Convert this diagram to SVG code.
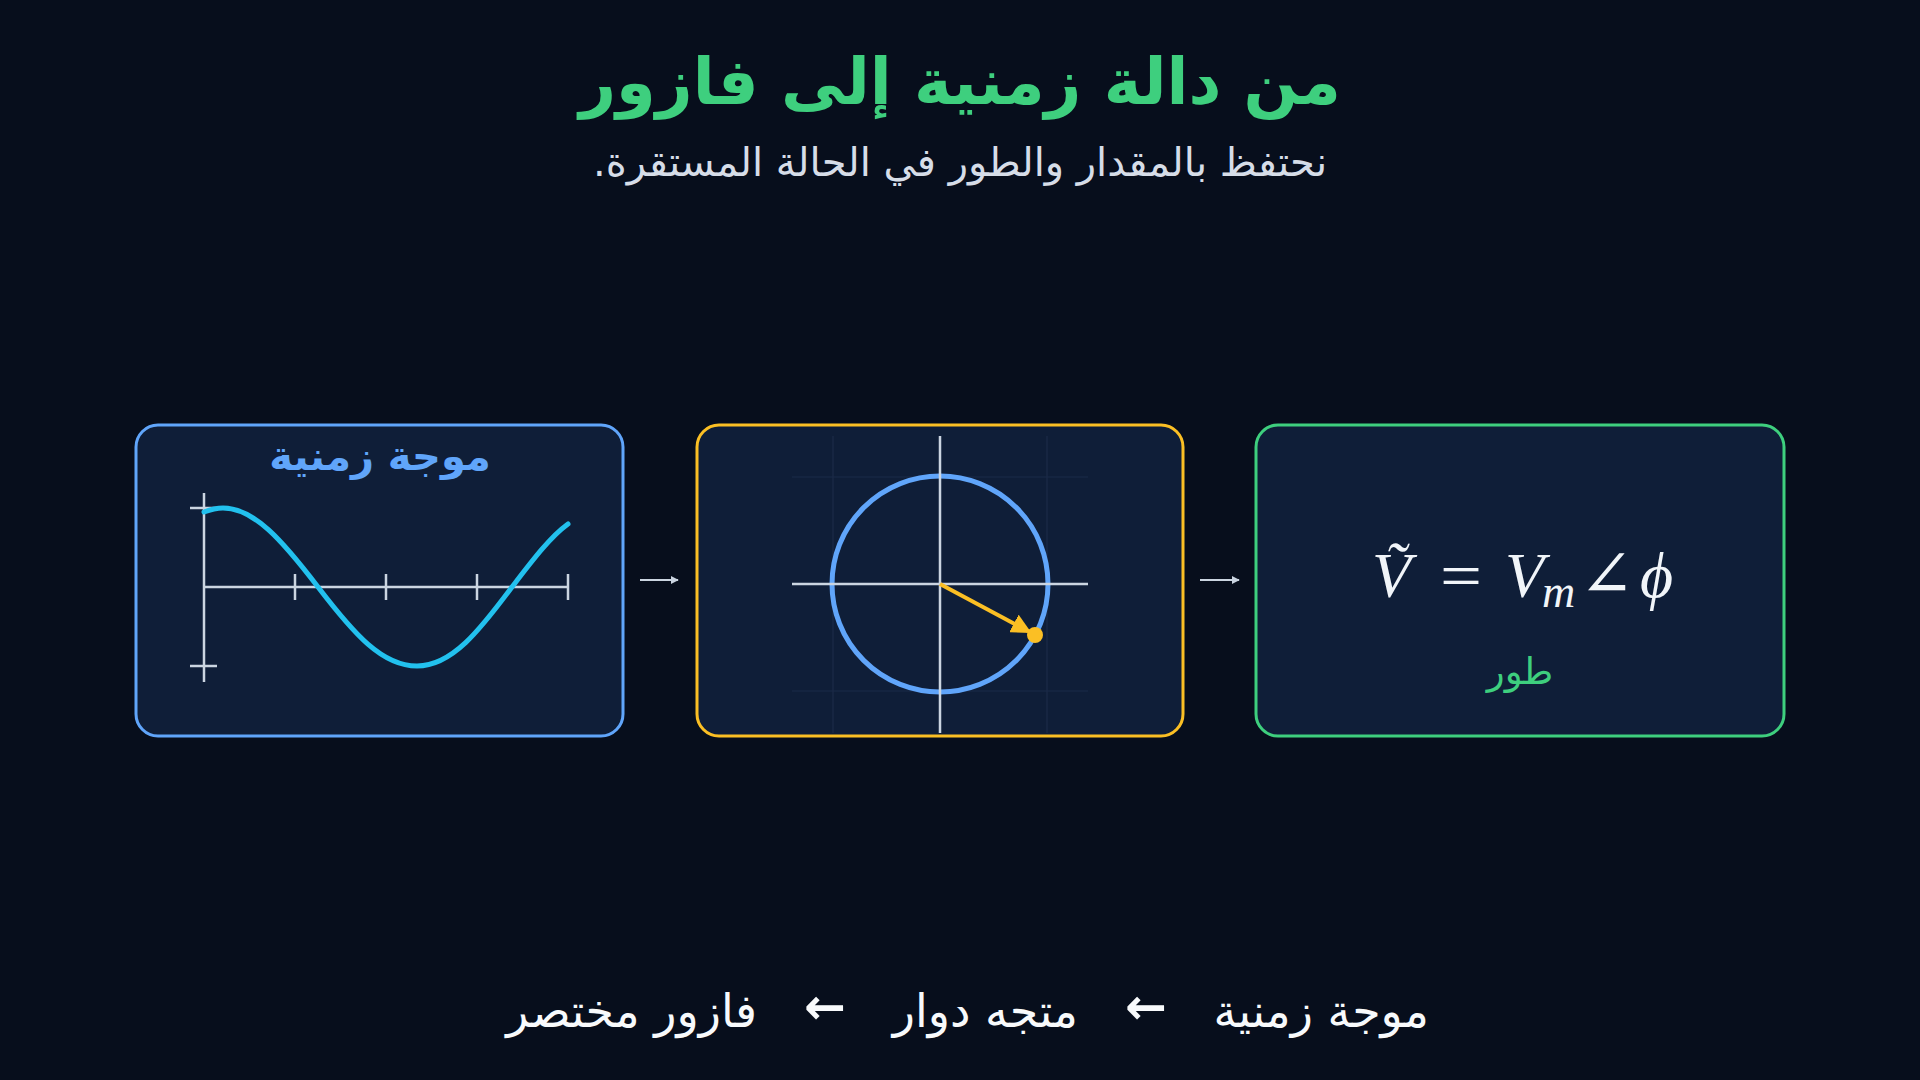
<svg xmlns="http://www.w3.org/2000/svg" width="1920" height="1080" viewBox="0 0 1920 1080">
  <defs>
    <style>
      .ar { font-family: "DejaVu Sans", "Noto Sans", sans-serif; direction: rtl; unicode-bidi: embed; }
      .panel { fill: #0f1e38; stroke-width: 3; }
      .axis { stroke: #cbd5e1; stroke-width: 2.5; fill: none; }
      .grid { stroke: #1b2b48; stroke-width: 1.2; fill: none; }
      .math { font-family: "Liberation Serif", "DejaVu Serif", serif; fill: #f1f5f9; }
      .conn { stroke: #cbd5e1; stroke-width: 2; fill: none; }
      .foot { fill: #f8fafc; font-size: 46px; }
      .farrow { font-family: "DejaVu Sans", sans-serif; font-size: 50px; font-weight: bold; fill: #f8fafc; }
    </style>
    <marker id="arrowSmall" viewBox="0 0 10 10" refX="9" refY="5" markerWidth="4" markerHeight="4" orient="auto" markerUnits="strokeWidth">
      <path d="M0,0 L10,5 L0,10 z" fill="#cbd5e1"/>
    </marker>
    <marker id="arrowPhasor" viewBox="0 0 10 10" refX="8" refY="5" markerWidth="5" markerHeight="5" orient="auto" markerUnits="strokeWidth">
      <path d="M0,0 L10,5 L0,10 z" fill="#fbbf24"/>
    </marker>
  </defs>

  <rect x="0" y="0" width="1920" height="1080" fill="#070e1c"/>

  <g id="title">
    <text class="ar" x="960" y="104" text-anchor="middle" font-size="64" font-weight="bold" fill="#3ecf7e">من دالة زمنية إلى فازور</text>
    <text class="ar" x="960" y="176" text-anchor="middle" font-size="40" fill="#d6dde8">نحتفظ بالمقدار والطور في الحالة المستقرة.</text>
  </g>

  <g id="node-time-wave">
    <rect class="panel" x="136" y="425" width="487" height="311" rx="22" stroke="#60a5fa"/>
    <text class="ar" x="380" y="470" text-anchor="middle" font-size="40" font-weight="bold" fill="#60a5fa">موجة زمنية</text>
    <g class="axis">
      <line x1="204" y1="493" x2="204" y2="682"/>
      <line x1="204" y1="587" x2="568" y2="587"/>
      <line x1="295" y1="574" x2="295" y2="600"/>
      <line x1="386" y1="574" x2="386" y2="600"/>
      <line x1="477" y1="574" x2="477" y2="600"/>
      <line x1="568" y1="574" x2="568" y2="600"/>
      <line x1="190" y1="508" x2="217" y2="508"/>
      <line x1="190" y1="666" x2="217" y2="666"/>
    </g>
    <path id="wave" fill="none" stroke="#22c1ee" stroke-width="5" stroke-linecap="round"
      d="M204,512 C212,509 218,508 223,508 C254,508 282,540 318,587 C354,634 382,666 417,666 C452,666 480,630 512,587 C532,561 550,537 568,524"/>
  </g>

  <g id="node-rotating-vector">
    <rect class="panel" x="697" y="425" width="486" height="311" rx="22" stroke="#fbbf24"/>
    <g class="grid">
      <line x1="833" y1="436" x2="833" y2="733"/>
      <line x1="1047" y1="436" x2="1047" y2="733"/>
      <line x1="792" y1="477" x2="1088" y2="477"/>
      <line x1="792" y1="691" x2="1088" y2="691"/>
    </g>
    <circle cx="940" cy="584" r="108" fill="none" stroke="#60a5fa" stroke-width="5"/>
    <g class="axis">
      <line x1="940" y1="436" x2="940" y2="733"/>
      <line x1="792" y1="584" x2="1088" y2="584"/>
    </g>
    <line x1="940" y1="584" x2="1028" y2="631" stroke="#fbbf24" stroke-width="4" marker-end="url(#arrowPhasor)"/>
    <circle cx="1035" cy="635" r="8" fill="#fbbf24"/>
  </g>

  <g id="node-phasor">
    <rect class="panel" x="1256" y="425" width="528" height="311" rx="22" stroke="#3ecf7e"/>
    <text class="math" y="597" font-size="64"><tspan x="1372" font-style="italic">Ṽ</tspan><tspan x="1440" textLength="42" lengthAdjust="spacingAndGlyphs">=</tspan><tspan x="1505" font-style="italic">V</tspan><tspan x="1542" y="607" font-size="46" font-style="italic">m</tspan><tspan x="1579" y="597" font-size="66">∠</tspan><tspan x="1640" font-style="italic">ϕ</tspan></text>
    <text class="ar" x="1520" y="684" text-anchor="middle" font-size="37" fill="#3ecf7e">طور</text>
  </g>

  <g id="connectors">
    <line class="conn" x1="640" y1="580" x2="678" y2="580" marker-end="url(#arrowSmall)"/>
    <line class="conn" x1="1200" y1="580" x2="1239" y2="580" marker-end="url(#arrowSmall)"/>
  </g>

  <g id="footer">
    <text class="ar foot" x="1429" y="1027" text-anchor="start">موجة زمنية</text>
    <text class="farrow" x="1146" y="1024" text-anchor="middle">←</text>
    <text class="ar foot" x="1078" y="1027" text-anchor="start">متجه دوار</text>
    <text class="farrow" x="825" y="1024" text-anchor="middle">←</text>
    <text class="ar foot" x="757" y="1027" text-anchor="start">فازور مختصر</text>
  </g>
</svg>
